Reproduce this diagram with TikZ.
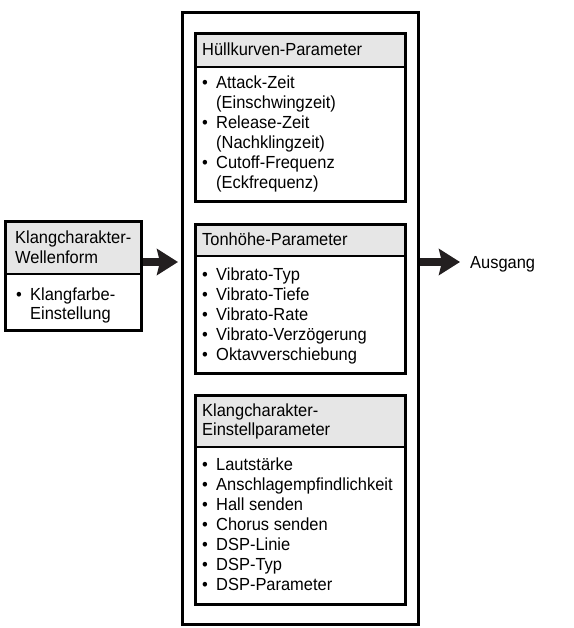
\documentclass[tikz,border=0pt]{standalone}
\usepackage{fontspec}
\setmainfont[FakeStretch=0.94]{Liberation Sans}
\usetikzlibrary{arrows.meta}
\definecolor{hdr}{HTML}{E6E6E6}
\definecolor{arr}{HTML}{231F20}
\begin{document}
\begin{tikzpicture}[x=1pt,y=-1pt,
  frame/.style={draw=black, line width=2.7pt, inner sep=0pt, anchor=north west},
  sepline/.style={draw=black, line width=1.3pt},
  txt/.style={font=\fontsize{17.5}{20}\selectfont, inner sep=0pt, anchor=base west},
  bigarrow/.style={draw=arr, line width=8pt, -{Stealth[length=21pt,width=26pt,inset=3pt]}}]
\useasboundingbox (0,0) rectangle (573,628);
\coordinate (yarr) at (0,262);

% outer frame
\node[frame, minimum width=236pt, minimum height=612pt] (outer) at (181,11) {};

% box 1
\fill[hdr] (194,32) rectangle (404,67);
\draw[sepline] (194,67) -- (404,67);
\node[frame, minimum width=210pt, minimum height=168pt] (b1) at (194,32) {};
\node[txt] (b1h) at (202,56) {Hüllkurven-Parameter};
\foreach \t [count=\i from 0] in {Attack-Zeit,(Einschwingzeit),Release-Zeit,(Nachklingzeit),Cutoff-Frequenz,(Eckfrequenz)}
  \node[txt] (b1t\i) at (216,{89+20*\i}) {\t};
\foreach \i in {0,2,4}
  \node[txt] (b1b\i) at (202,{89+20*\i}) {•};

% box 2
\fill[hdr] (194,223) rectangle (404,256);
\draw[sepline] (194,256) -- (404,256);
\node[frame, minimum width=210pt, minimum height=149pt] (b2) at (194,223) {};
\node[txt] (b2h) at (202,245) {Tonhöhe-Parameter};
\foreach \t [count=\i from 0] in {Vibrato-Typ,Vibrato-Tiefe,Vibrato-Rate,Vibrato-Verzögerung,Oktavverschiebung}{
  \node[txt] (b2b\i) at (202,{280+20*\i}) {•};
  \node[txt] (b2t\i) at (216,{280+20*\i}) {\t};
}

% box 3
\fill[hdr] (194,394) rectangle (404,447);
\draw[sepline] (194,447) -- (404,447);
\node[frame, minimum width=210pt, minimum height=209pt] (b3) at (194,394) {};
\node[txt] (b3h1) at (202,416) {Klangcharakter-};
\node[txt] (b3h2) at (202,435) {Einstellparameter};
\foreach \t [count=\i from 0] in {Lautstärke,Anschlagempfindlichkeit,Hall senden,Chorus senden,DSP-Linie,DSP-Typ,DSP-Parameter}{
  \node[txt] (b3b\i) at (202,{470+20*\i}) {•};
  \node[txt] (b3t\i) at (216,{470+20*\i}) {\t};
}

% left box
\fill[hdr] (4,220) rectangle (140,274);
\draw[sepline] (4,274) -- (140,274);
\node[frame, minimum width=136pt, minimum height=109pt] (lb) at (4,220) {};
\node[txt] (lbh1) at (15,243) {Klangcharakter-};
\node[txt] (lbh2) at (15,263) {Wellenform};
\node[txt] (lbb) at (16,300) {•};
\node[txt] (lbt1) at (30,300) {Klangfarbe-};
\node[txt] (lbt2) at (30,319) {Einstellung};

% output label
\node[txt] (out) at (470,268) {Ausgang};

% arrows
\draw[bigarrow, shorten >=3pt] (lb.east |- yarr) -- (outer.west |- yarr);
\draw[bigarrow, shorten >=10pt] (outer.east |- yarr) -- (out.west |- yarr);
\end{tikzpicture}
\end{document}
